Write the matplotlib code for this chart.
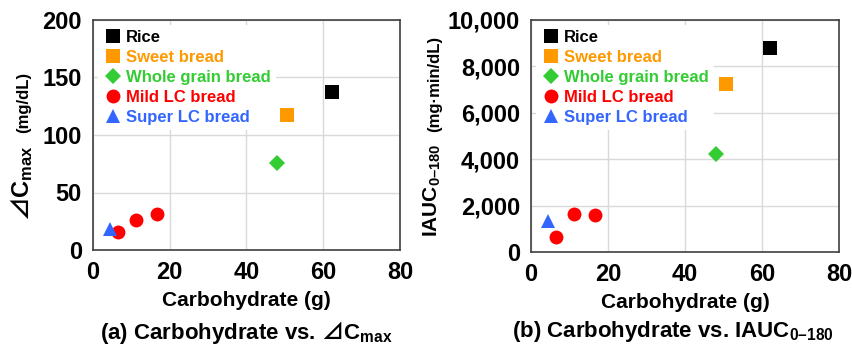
import matplotlib
matplotlib.use("Agg")
import matplotlib.pyplot as plt

plt.rcParams['font.family'] = ['Liberation Sans', 'DejaVu Sans']
plt.rcParams['font.weight'] = 'bold'
plt.rcParams['mathtext.fontset'] = 'custom'
plt.rcParams['mathtext.rm'] = 'Liberation Sans:bold'
plt.rcParams['mathtext.bf'] = 'Liberation Sans:bold'
plt.rcParams['mathtext.it'] = 'Liberation Sans:bold'
plt.rcParams['mathtext.sf'] = 'Noto Sans CJK JP:bold'

series = ["Rice", "Sweet bread", "Whole grain bread", "Mild LC bread", "Super LC bread"]
colors = ["#000000", "#FF9900", "#33CC33", "#FF0000", "#3366FF"]
markers = ["s", "s", "D", "o", "^"]
msizes = [9.5, 9.5, 8.5, 10, 10]

carb = {
    "Rice": [62.2],
    "Sweet bread": [50.6],
    "Whole grain bread": [48.0],
    "Mild LC bread": [6.6, 11.2, 16.7],
    "Super LC bread": [4.5],
}
cmax = {
    "Rice": [137],
    "Sweet bread": [117],
    "Whole grain bread": [75.5],
    "Mild LC bread": [15.5, 26.5, 31.5],
    "Super LC bread": [18.5],
}
iauc = {
    "Rice": [8780],
    "Sweet bread": [7230],
    "Whole grain bread": [4230],
    "Mild LC bread": [660, 1620, 1590],
    "Super LC bread": [1350],
}

x_ticks = [0, 20, 40, 60, 80]
y1_ticks = [0, 50, 100, 150, 200]
y2_ticks = [0, 2000, 4000, 6000, 8000, 10000]
y2_labels = ["0", "2,000", "4,000", "6,000", "8,000", "10,000"]

fig = plt.figure(figsize=(8.53, 3.44), dpi=100)
ax1 = fig.add_axes([93/853, 1-250/344, 307/853, 230/344])
ax2 = fig.add_axes([531/853, 1-252/344, 308/853, 232/344])

def draw(ax, ydata, yticks, ylabels, ymax):
    for s, c, m, ms in zip(series, colors, markers, msizes):
        ax.plot(carb[s], ydata[s], linestyle='none', marker=m, color=c,
                markersize=ms, markeredgewidth=0, label=s, zorder=3)
    ax.set_xlim(0, 80)
    ax.set_ylim(0, ymax)
    ax.set_xticks(x_ticks)
    ax.set_yticks(yticks)
    ax.set_yticklabels(ylabels)
    ax.grid(True, color='#D9D9D9', linewidth=1.0, zorder=0)
    ax.set_axisbelow(True)
    for sp in ax.spines.values():
        sp.set_color('#404040')
        sp.set_linewidth(1.2)
    ax.tick_params(axis='both', length=0, labelsize=17, pad=8)
    for lbl in ax.get_xticklabels() + ax.get_yticklabels():
        lbl.set_fontweight('bold')
    ax.set_xlabel("Carbohydrate (g)", fontsize=15, fontweight='bold', labelpad=5)
    leg = ax.legend(loc='upper left', frameon=True, fontsize=12, handletextpad=0.2,
                    labelspacing=0.3, borderaxespad=0.3, handlelength=1.2,
                    markerscale=1.0, borderpad=0.3)
    leg.get_frame().set_facecolor('white')
    leg.get_frame().set_edgecolor('none')
    leg.get_frame().set_alpha(1.0)
    for t, c in zip(leg.get_texts(), colors):
        t.set_color(c)
        t.set_fontweight('bold')

draw(ax1, cmax, y1_ticks, [str(v) for v in y1_ticks], 200)
draw(ax2, iauc, y2_ticks, y2_labels, 10000)

tri = "$\\mathsf{\u22bf}$"

# Y labels built from pieces
fig.text(22/853, 1-183/344, tri + "C$_{\\mathregular{max}}$", rotation=90, fontsize=17,
         ha='center', va='center', fontweight='bold')
fig.text(24/853, 1-102/344, "(mg/dL)", rotation=90, fontsize=12,
         ha='center', va='center', fontweight='bold')
fig.text(432/853, 1-190/344, "IAUC$_{\\mathregular{0\u2013180}}$", rotation=90, fontsize=15,
         ha='center', va='center', fontweight='bold')
fig.text(435/853, 1-84/344, "(mg\u00b7min/dL)", rotation=90, fontsize=12,
         ha='center', va='center', fontweight='bold')

# Captions
fig.text(246/853, 1-332/344, "(a) Carbohydrate vs. " + tri + "C$_{\\mathregular{max}}$", fontsize=16,
         ha='center', va='center', fontweight='bold')
fig.text(673/853, 1-332/344, "(b) Carbohydrate vs. IAUC$_{\\mathregular{0\u2013180}}$", fontsize=16,
         ha='center', va='center', fontweight='bold')

fig.savefig("out.png", dpi=100)
